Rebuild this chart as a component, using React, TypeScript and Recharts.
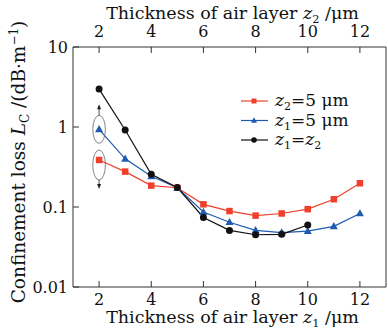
import React from 'react'
import { LineChart, Line, XAxis, YAxis, ReferenceLine, ReferenceDot } from 'recharts'

// air layer thickness (µm), shared by both x axes
const thickness = [2, 3, 4, 5, 6, 7, 8, 9, 10, 11, 12]
// confinement loss (dB/m)
const lossZ2Fixed = [0.387, 0.277, 0.185, 0.174, 0.108, 0.089, 0.078, 0.083, 0.094, 0.125, 0.198]
const lossZ1Fixed = [0.935, 0.4, 0.242, 0.174, 0.0866, 0.0645, 0.051, 0.0478, 0.05, 0.0573, 0.083]
const lossEqual = [2.98, 0.917, 0.256, 0.175, 0.074, 0.051, 0.045, 0.0455, 0.0596]

const xTicks = [2, 4, 6, 8, 10, 12]
const yTicks = [0.01, 0.1, 1, 10]
const yMinorTicks = [
    0.02, 0.03, 0.04, 0.05, 0.06, 0.07, 0.08, 0.09,
    0.2, 0.3, 0.4, 0.5, 0.6, 0.7, 0.8, 0.9,
    2, 3, 4, 5, 6, 7, 8, 9,
]

const data = thickness.map((x, i) => ({
    x,
    red: lossZ2Fixed[i],
    blue: lossZ1Fixed[i],
    black: lossEqual[i],
}))

const FONT = '"DejaVu Serif", serif'
const RED = '#f0402c'
const BLUE = '#1f5bb0'
const BLACK = '#111'
const AXIS = '#333'

const tickStyle = { fontFamily: FONT, fontSize: 16, fill: '#111' }

function Square(props: any) {
    const { cx, cy, size = 6.5, color } = props
    if (cx == null || cy == null) return null
    return <rect x={cx - size / 2} y={cy - size / 2} width={size} height={size} fill={color} />
}

function Triangle(props: any) {
    const { cx, cy, size = 8, color } = props
    if (cx == null || cy == null) return null
    const h = size * 0.9
    return (
        <polygon
            points={`${cx},${cy - h * 0.6} ${cx - size / 2},${cy + h * 0.4} ${cx + size / 2},${cy + h * 0.4}`}
            fill={color}
        />
    )
}

function Circle(props: any) {
    const { cx, cy, r = 3.5, color } = props
    if (cx == null || cy == null) return null
    return <circle cx={cx} cy={cy} r={r} fill={color} />
}

// italic z with a subscript, followed by the rest of the text back on the baseline
function Zee({ sub, size = 16, rest }: { sub: string; size?: number; rest: string }) {
    return (
        <>
            <tspan fontStyle="italic">z</tspan>
            <tspan fontSize={size * 0.65} dy={4}>{sub}</tspan>
            <tspan dy={-4}>{rest}</tspan>
        </>
    )
}

function EllipseUp(props: any) {
    const { cx, cy } = props
    if (cx == null) return null
    const top = cy - 14
    return (
        <g>
            <ellipse cx={cx} cy={cy} rx={6.3} ry={14} fill="none" stroke="#666" strokeWidth={0.8} />
            <line x1={cx} y1={top} x2={cx} y2={top - 9} stroke="#222" strokeWidth={0.8} />
            <polygon points={`${cx},${top - 11} ${cx - 2},${top - 6} ${cx + 2},${top - 6}`} fill="#222" />
        </g>
    )
}

function EllipseDown(props: any) {
    const { cx, cy } = props
    if (cx == null) return null
    const c = cy + 5
    const bottom = c + 15
    return (
        <g>
            <ellipse cx={cx} cy={c} rx={6.3} ry={15} fill="none" stroke="#666" strokeWidth={0.8} />
            <line x1={cx} y1={bottom} x2={cx} y2={bottom + 7} stroke="#222" strokeWidth={0.8} />
            <polygon points={`${cx},${bottom + 9} ${cx - 2},${bottom + 4} ${cx + 2},${bottom + 4}`} fill="#222" />
        </g>
    )
}

function LegendBox() {
    const rows = [
        { color: RED, mark: 'square', label: <Zee sub="2" size={17} rest="=5 μm" /> },
        { color: BLUE, mark: 'triangle', label: <Zee sub="1" size={17} rest="=5 μm" /> },
        {
            color: BLACK,
            mark: 'circle',
            label: (
                <>
                    <Zee sub="1" size={17} rest="=" />
                    <tspan fontStyle="italic">z</tspan>
                    <tspan fontSize={11} dy={4}>2</tspan>
                </>
            ),
        },
    ]
    return (
        <svg width={146} height={76} style={{ position: 'absolute', left: 240, top: 86 }}>
            {rows.map((r, i) => {
                const y = 15 + i * 19.5
                return (
                    <g key={i}>
                        <line x1={1} x2={28} y1={y} y2={y} stroke={r.color} strokeWidth={1.2} />
                        {r.mark === 'square' && <Square cx={14} cy={y} size={5} color={r.color} />}
                        {r.mark === 'triangle' && <Triangle cx={14} cy={y} size={6} color={r.color} />}
                        {r.mark === 'circle' && <Circle cx={14} cy={y} r={2.8} color={r.color} />}
                        <text x={35} y={y + 5} fontFamily={FONT} fontSize={17} fill="#111">
                            {r.label}
                        </text>
                    </g>
                )
            })}
        </svg>
    )
}

const fmtY = (v: number) => String(v)

export default function App() {
    return (
        <div style={{ position: 'absolute', left: 0, top: 0, width: 388, height: 332, background: '#fff' }}>
            <LineChart width={388} height={332} data={data} margin={{ top: 0, right: 2, bottom: 0, left: 0 }}>
                <XAxis
                    xAxisId="bottom"
                    dataKey="x"
                    type="number"
                    domain={[1, 13]}
                    ticks={xTicks}
                    allowDataOverflow
                    height={45}
                    stroke={AXIS}
                    tickSize={-6}
                    tickMargin={13}
                    tick={tickStyle}
                    label={({ viewBox }: any) => (
                        <text x={viewBox.x + viewBox.width / 2 + 3} y={viewBox.y + 36} textAnchor="middle" fontFamily={FONT} fontSize={17.5} fill="#111">
                            Thickness of air layer <Zee sub="1" size={17.5} rest=" /μm" />
                        </text>
                    )}
                />
                <XAxis
                    xAxisId="top"
                    orientation="top"
                    dataKey="x"
                    type="number"
                    domain={[1, 13]}
                    ticks={xTicks}
                    allowDataOverflow
                    height={47}
                    stroke={AXIS}
                    tickSize={-6}
                    tickMargin={16}
                    tick={tickStyle}
                    label={({ viewBox }: any) => (
                        <text x={viewBox.x + viewBox.width / 2 + 3} y={19} textAnchor="middle" fontFamily={FONT} fontSize={17.5} fill="#111">
                            Thickness of air layer <Zee sub="2" size={17.5} rest=" /μm" />
                        </text>
                    )}
                />
                <YAxis
                    yAxisId="main"
                    scale="log"
                    type="number"
                    domain={[0.01, 10]}
                    ticks={yTicks}
                    allowDataOverflow
                    width={73}
                    stroke={AXIS}
                    tickSize={-6}
                    tickMargin={11}
                    tick={tickStyle}
                    tickFormatter={fmtY}
                    label={() => (
                        <text transform="rotate(-90, 25, 162)" x={25} y={162} textAnchor="middle" fontFamily={FONT} fontSize={18.5} fill="#111">
                            Confinement loss <tspan fontStyle="italic">L</tspan>
                            <tspan fontSize={12} dy={4}>C</tspan>
                            <tspan dy={-4}> /(dB·m</tspan>
                            <tspan fontSize={12} dy={-7}>−1</tspan>
                            <tspan dy={7}>)</tspan>
                        </text>
                    )}
                />
                <YAxis
                    yAxisId="minor"
                    scale="log"
                    type="number"
                    domain={[0.01, 10]}
                    ticks={yMinorTicks}
                    allowDataOverflow
                    mirror
                    width={0}
                    axisLine={false}
                    stroke={AXIS}
                    tickSize={3}
                    tickFormatter={() => ''}
                />
                <ReferenceLine xAxisId="bottom" yAxisId="main" x={13} stroke={AXIS} />
                <Line
                    xAxisId="top"
                    yAxisId="main"
                    dataKey="red"
                    stroke="none"
                    dot={false}
                    activeDot={false}
                    isAnimationActive={false}
                />
                <Line
                    xAxisId="bottom"
                    yAxisId="main"
                    dataKey="red"
                    stroke={RED}
                    strokeWidth={1.2}
                    dot={(p: any) => <Square key={`r${p.index}`} cx={p.cx} cy={p.cy} color={RED} />}
                    isAnimationActive={false}
                />
                <Line
                    xAxisId="bottom"
                    yAxisId="main"
                    dataKey="blue"
                    stroke={BLUE}
                    strokeWidth={1.2}
                    dot={(p: any) => <Triangle key={`b${p.index}`} cx={p.cx} cy={p.cy} color={BLUE} />}
                    isAnimationActive={false}
                />
                <Line
                    xAxisId="bottom"
                    yAxisId="main"
                    dataKey="black"
                    stroke={BLACK}
                    strokeWidth={1.2}
                    dot={(p: any) => <Circle key={`k${p.index}`} cx={p.cx} cy={p.cy} color={BLACK} />}
                    isAnimationActive={false}
                />
                <ReferenceDot xAxisId="bottom" yAxisId="main" x={thickness[0]} y={lossZ1Fixed[0]} shape={EllipseUp} />
                <ReferenceDot xAxisId="bottom" yAxisId="main" x={thickness[0]} y={lossZ2Fixed[0]} shape={EllipseDown} />
            </LineChart>
            <LegendBox />
        </div>
    )
}
